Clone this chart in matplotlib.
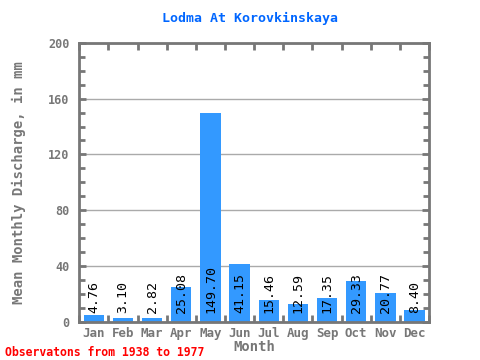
import matplotlib
matplotlib.use("Agg")
import matplotlib.pyplot as plt
from matplotlib.ticker import MultipleLocator
import numpy as np

months = ["Jan", "Feb", "Mar", "Apr", "May", "Jun", "Jul", "Aug", "Sep", "Oct", "Nov", "Dec"]
discharge = [4.76, 3.10, 2.82, 25.08, 149.70, 41.15, 15.46, 12.59, 17.35, 29.33, 20.77, 8.40]

gray = "#777777"
mono = "DejaVu Sans Mono"

fig = plt.figure(figsize=(4.8, 3.6), dpi=100)
ax = fig.add_axes([0.165, 0.106, 0.729, 0.775])

x = np.arange(len(months))
ax.bar(x, discharge, width=0.7, color="#3399ff", zorder=2)

# value labels, rotated, sitting on the x axis
for xi, v in zip(x, discharge):
    ax.text(xi, 6, f"{v:.2f}", rotation=90, ha="center", va="bottom",
            fontsize=9.5, family=mono, color="black", zorder=3)

ax.set_xlim(-0.5, 11.5)
ax.set_ylim(0, 200)
ax.yaxis.set_major_locator(MultipleLocator(40))
ax.yaxis.set_minor_locator(MultipleLocator(10))
ax.set_xticks(x)
ax.set_xticklabels(months)
ax.set_xticks(np.arange(-0.5, 12, 1), minor=True)

ax.grid(axis="y", which="major", color="#aaaaaa", linewidth=1, zorder=0)
ax.tick_params(axis="x", which="major", length=0, pad=4, labelsize=9, labelcolor=gray)
ax.tick_params(axis="x", which="minor", direction="in", length=5, width=2, color=gray,
               top=True, bottom=True)
ax.tick_params(axis="y", which="both", direction="in", width=2, color=gray,
               left=True, right=True, labelsize=8.5, labelcolor=gray, pad=7)
ax.tick_params(axis="y", which="major", length=5)
ax.tick_params(axis="y", which="minor", length=4)
for lab in ax.get_xticklabels() + ax.get_yticklabels():
    lab.set_family(mono)
    lab.set_fontweight("bold")

for s in ax.spines.values():
    s.set_color(gray)
    s.set_linewidth(2)

ax.set_xlabel("Month", family=mono, fontsize=10, fontweight="bold", color=gray, labelpad=0)
ax.set_ylabel("Mean Monthly Discharge, in mm", family=mono, fontsize=10,
              fontweight="bold", color=gray, labelpad=16)
fig.text(0.52, 0.95, "Lodma At Korovkinskaya", ha="center", va="center",
         family=mono, fontsize=9.5, fontweight="bold", color="#0066ff")
fig.text(0.01, 0.022, "Observatons from 1938 to 1977", ha="left", va="center",
         family=mono, fontsize=8.3, fontweight="bold", color="red")

fig.savefig("out.png", dpi=100)
